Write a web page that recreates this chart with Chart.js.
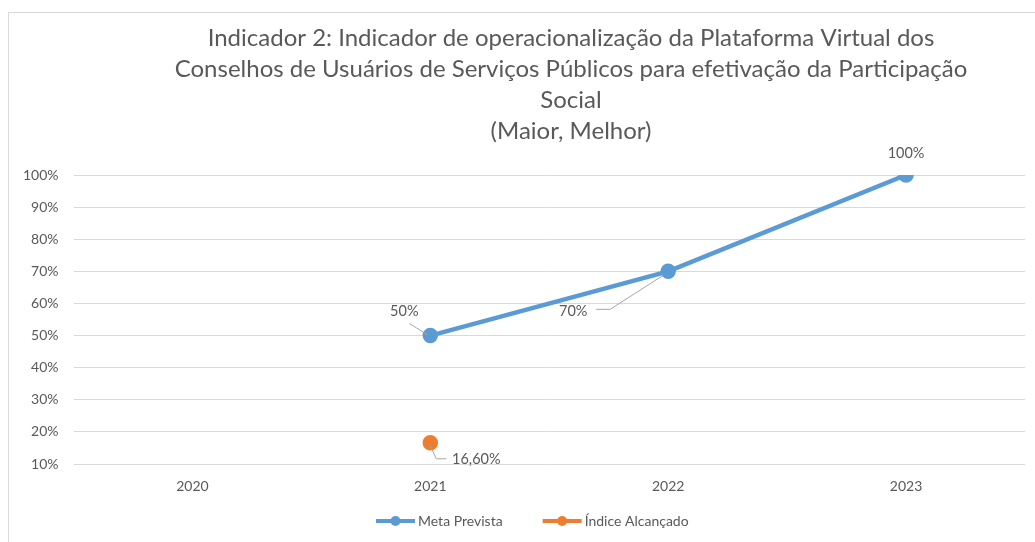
<!DOCTYPE html>
<html>
<head>
<meta charset="utf-8">
<script src="https://cdn.jsdelivr.net/npm/chart.js@4"></script>
<style>
  html, body { margin: 0; padding: 0; background: #fff; }
  #wrap { width: 1035px; height: 542px; }
</style>
</head>
<body>
<div id="wrap"><canvas id="myChart" width="1035" height="542"></canvas></div>
<script>
const years = ['2020', '2021', '2022', '2023'];
const metaPrevista = [null, 50, 70, 100];
const indiceAlcancado = [null, 16.6, null, null];
const yTicks = [10, 20, 30, 40, 50, 60, 70, 80, 90, 100];

const titleLines = [
  'Indicador 2: Indicador de operacionalização da Plataforma Virtual dos',
  'Conselhos de Usuários de Serviços Públicos para efetivação da Participação',
  'Social',
  '(Maior, Melhor)'
];

const FONT = 'Lato, "Open Sans", sans-serif';
const TEXT = '#595959';

// label position relative to point, plus leader line points (also relative)
const labelSpots = {
  0: { 1: { dx: -26, dy: -24, lead: [[-21, -12], [-3, -1]] },
       2: { dx: -95, dy: 40, lead: [[-72, 38], [-58, 38], [-5, 4]] },
       3: { dx: 0, dy: -22 } },
  1: { 1: { dx: 46, dy: 17, lead: [[0, 3], [6, 16], [16, 16]] } }
};

function fmt(v) {
  return Number.isInteger(v) ? v + '%' : v.toFixed(2).replace('.', ',') + '%';
}

const extras = {
  id: 'extras',
  beforeDraw(chart) {
    const c = chart.ctx;
    c.save();
    c.strokeStyle = '#d9d9d9';
    c.lineWidth = 1;
    c.strokeRect(8.5, 12.5, 1200, 700);
    c.fillStyle = TEXT;
    c.font = '24px ' + FONT;
    c.textAlign = 'center';
    c.textBaseline = 'middle';
    titleLines.forEach((t, i) => c.fillText(t, 571, 38 + i * 31));
    c.restore();
  },
  afterDatasetsDraw(chart) {
    const c = chart.ctx;
    c.save();
    c.font = '14.5px ' + FONT;
    c.textAlign = 'center';
    c.textBaseline = 'middle';
    chart.data.datasets.forEach((ds, di) => {
      const meta = chart.getDatasetMeta(di);
      ds.data.forEach((v, i) => {
        if (v == null) return;
        const p = meta.data[i];
        const s = labelSpots[di][i];
        if (s.lead) {
          c.strokeStyle = '#a6a6a6';
          c.lineWidth = 1;
          c.beginPath();
          s.lead.forEach((q, k) => {
            if (k === 0) c.moveTo(p.x + q[0], p.y + q[1]);
            else c.lineTo(p.x + q[0], p.y + q[1]);
          });
          c.stroke();
        }
        c.fillStyle = TEXT;
        c.fillText(fmt(v), p.x + s.dx, p.y + s.dy);
      });
    });

    // legend
    let x = 376;
    const y = 521;
    c.font = '14px ' + FONT;
    c.textAlign = 'left';
    chart.data.datasets.forEach(ds => {
      c.strokeStyle = ds.borderColor;
      c.lineWidth = 4;
      c.beginPath();
      c.moveTo(x, y);
      c.lineTo(x + 39, y);
      c.stroke();
      c.fillStyle = ds.borderColor;
      c.beginPath();
      c.arc(x + 19.5, y, 5, 0, Math.PI * 2);
      c.fill();
      c.fillStyle = TEXT;
      c.fillText(ds.label, x + 42, y);
      x += 42 + c.measureText(ds.label).width + 40;
    });
    c.restore();
  }
};

new Chart(document.getElementById('myChart'), {
  type: 'line',
  data: {
    labels: years,
    datasets: [{
      label: 'Meta Prevista',
      data: metaPrevista,
      borderColor: '#5B9BD5',
      backgroundColor: '#5B9BD5',
      borderWidth: 4.5,
      pointRadius: 5.5,
      pointHoverRadius: 5.5,
      tension: 0
    }, {
      label: 'Índice Alcançado',
      data: indiceAlcancado,
      borderColor: '#ED7D31',
      backgroundColor: '#ED7D31',
      borderWidth: 4.5,
      pointRadius: 5.5,
      pointHoverRadius: 5.5
    }]
  },
  options: {
    responsive: false,
    animation: false,
    layout: { padding: { top: 175, right: 0, bottom: 48, left: 0 } },
    plugins: {
      legend: { display: false },
      title: { display: false },
      tooltip: { enabled: false }
    },
    scales: {
      x: {
        offset: true,
        grid: { display: false, drawTicks: false },
        border: { display: false },
        ticks: { color: TEXT, font: { family: FONT, size: 14 }, padding: 14 },
        afterFit: s => { s.height = 30; }
      },
      y: {
        min: 10,
        max: 100,
        afterBuildTicks: s => { s.ticks = yTicks.map(v => ({ value: v })); },
        grid: { color: '#d9d9d9', drawTicks: false },
        border: { display: false },
        ticks: { color: TEXT, font: { family: FONT, size: 14 }, padding: 15, callback: v => v + '%' },
        afterFit: s => { s.width = 73.5; }
      }
    }
  },
  plugins: [extras]
});
</script>
</body>
</html>
